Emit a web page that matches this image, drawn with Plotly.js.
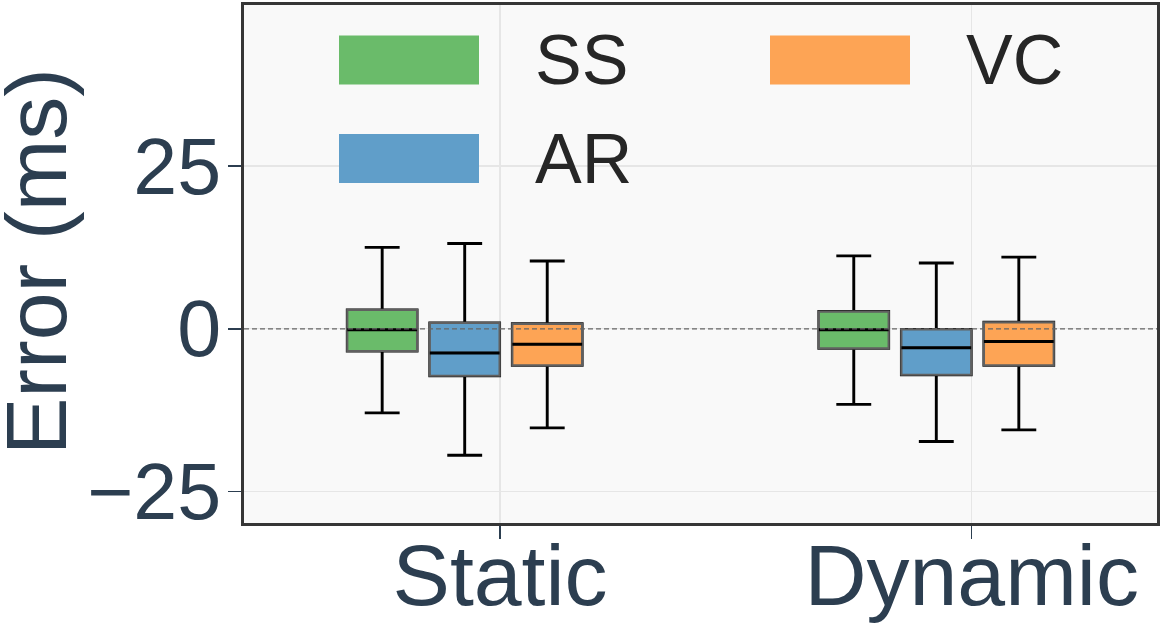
<!DOCTYPE html>
<html>
<head>
<meta charset="utf-8">
<script src="https://cdn.plot.ly/plotly-3.0.1.min.js"></script>
<style>html,body{margin:0;padding:0;background:#fff;}#chart{width:1163px;height:625px;}</style>
</head>
<body>
<div id="chart"></div>
<script>
// ---- data ----
const categories = ['Static', 'Dynamic'];
const seriesNames = ['SS', 'AR', 'VC'];
const seriesColors = ['#6abb6a', '#609ec9', '#fda455'];

const ssQ1 = [-3.4, -3.0];
const ssMedian = [-0.15, -0.15];
const ssQ3 = [2.9, 2.65];
const ssLower = [-12.9, -11.6];
const ssUpper = [12.5, 11.2];

const arQ1 = [-7.2, -7.05];
const arMedian = [-3.7, -2.9];
const arQ3 = [0.9, -0.1];
const arLower = [-19.4, -17.3];
const arUpper = [13.1, 10.1];

const vcQ1 = [-5.6, -5.6];
const vcMedian = [-2.35, -1.95];
const vcQ3 = [0.77, 1.0];
const vcLower = [-15.2, -15.5];
const vcUpper = [10.4, 11.0];

const yTicks = [-25, 0, 25];
const yTitle = 'Error (ms)';

// ---- style / layout ----
const stats = [
  {q1: ssQ1, med: ssMedian, q3: ssQ3, lo: ssLower, hi: ssUpper},
  {q1: arQ1, med: arMedian, q3: arQ3, lo: arLower, hi: arUpper},
  {q1: vcQ1, med: vcMedian, q3: vcQ3, lo: vcLower, hi: vcUpper}
];
const groupOffsets = [-0.25, -0.075, 0.10];
const boxWidth = 0.148;
const fontFam = 'Liberation Sans, Arial, Helvetica, sans-serif';
const textCol = '#2c3e50';

const M = {l: 244, r: 6, t: 5, b: 102};
const PW = 1163 - M.l - M.r, PH = 625 - M.t - M.b;
const pxX = px => (px - M.l) / PW;
const pxY = py => (625 - M.b - py) / PH;

const traces = [];
stats.forEach((s, k) => {
  const xs = categories.map((c, i) => i + groupOffsets[k]);
  // whiskers + caps (black)
  traces.push({
    type: 'box', x: xs, q1: s.q1, median: s.med, q3: s.q3,
    lowerfence: s.lo, upperfence: s.hi, width: boxWidth,
    whiskerwidth: 0.5, fillcolor: 'rgba(0,0,0,0)',
    line: {color: '#000000', width: 2.9}, showlegend: false, hoverinfo: 'skip', name: seriesNames[k]
  });
});
stats.forEach((s, k) => {
  const xs = categories.map((c, i) => i + groupOffsets[k]);
  // filled box with gray edge
  traces.push({
    type: 'box', x: xs, q1: s.q1, median: s.med, q3: s.q3,
    lowerfence: s.q1, upperfence: s.q3, width: boxWidth,
    whiskerwidth: 0, fillcolor: seriesColors[k],
    line: {color: '#606060', width: 2.2}, showlegend: false, name: seriesNames[k]
  });
  // black median
  traces.push({
    type: 'box', x: xs, q1: s.med, median: s.med, q3: s.med,
    lowerfence: s.med, upperfence: s.med, width: boxWidth,
    whiskerwidth: 0, fillcolor: 'rgba(0,0,0,0)',
    line: {color: '#000000', width: 3}, showlegend: false, hoverinfo: 'skip', name: seriesNames[k]
  });
});

// custom legend (matplotlib-like large swatches)
const legendColPx = [339, 770];
const legendRowPx = [60, 158.5];
const swW = 140, swH = 49, textGap = 54;
const shapes = [{
  type: 'line', xref: 'paper', x0: 0, x1: 1, yref: 'y', y0: 0, y1: 0,
  line: {color: '#666666', width: 1.4, dash: '5px,3px'}, layer: 'above'
}];
const annotations = [];
seriesNames.forEach((n, i) => {
  const col = Math.floor(i / 2), row = i % 2;
  const x0 = legendColPx[col], yc = legendRowPx[row];
  shapes.push({
    type: 'rect', xref: 'paper', yref: 'paper',
    x0: pxX(x0), x1: pxX(x0 + swW), y0: pxY(yc + swH / 2), y1: pxY(yc - swH / 2),
    fillcolor: seriesColors[i], line: {width: 0}, layer: 'above'
  });
  annotations.push({
    xref: 'paper', yref: 'paper', x: pxX(x0 + swW + textGap), y: pxY(yc),
    xanchor: 'left', yanchor: 'middle', showarrow: false, text: n,
    font: {family: fontFam, size: 70, color: '#262626'}
  });
});
// y-axis title (placed as rotated text so it can sit at the very left edge)
annotations.push({
  xref: 'paper', yref: 'paper', x: pxX(36), y: pxY(262),
  xanchor: 'center', yanchor: 'middle', showarrow: false, textangle: -90,
  text: yTitle, font: {family: fontFam, size: 86, color: textCol}
});

const layout = {
  width: 1163, height: 625,
  margin: M,
  paper_bgcolor: '#ffffff', plot_bgcolor: '#f9f9f9',
  showlegend: false, boxmode: 'overlay',
  font: {family: fontFam, color: textCol},
  xaxis: {
    type: 'linear', range: [-0.543, 1.393],
    tickvals: categories.map((c, i) => i), ticktext: categories,
    tickfont: {size: 86, color: textCol, family: fontFam},
    ticks: 'outside', ticklen: 13, tickwidth: 1.5, tickcolor: textCol,
    ticklabelstandoff: -37,
    showgrid: true, gridcolor: '#e6e6e6', gridwidth: 1.2, zeroline: false,
    showline: true, mirror: true, linecolor: '#363636', linewidth: 3
  },
  yaxis: {
    range: [-29.8, 49.7],
    tickvals: yTicks,
    tickfont: {size: 79, color: textCol, family: fontFam},
    ticks: 'outside', ticklen: 13, tickwidth: 1.5, tickcolor: textCol,
    ticklabelstandoff: -9,
    showgrid: true, gridcolor: '#e6e6e6', gridwidth: 1.2, zeroline: false,
    showline: true, mirror: true, linecolor: '#363636', linewidth: 3
  },
  shapes: shapes,
  annotations: annotations
};

Plotly.newPlot('chart', traces, layout, {staticPlot: true, displayModeBar: false});
</script>
</body>
</html>
